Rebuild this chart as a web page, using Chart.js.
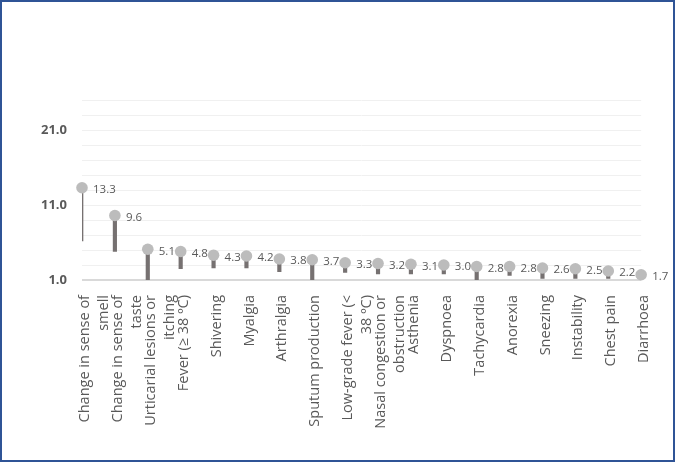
<!DOCTYPE html>
<html>
<head>
<meta charset="utf-8">
<script src="https://cdn.jsdelivr.net/npm/chart.js"></script>
<style>
  html, body { margin: 0; padding: 0; background: #fff; }
  #wrap { position: relative; width: 675px; height: 462px; }
  #frame { position: absolute; left: 0; top: 0; width: 675px; height: 462px;
           box-sizing: border-box; border: 2px solid #2f5496; pointer-events: none; }
  canvas { position: absolute; left: 0; top: 0; }
</style>
</head>
<body>
<div id="wrap">
  <canvas id="chart" width="675" height="462"></canvas>
  <div id="frame"></div>
</div>
<script>
// symptoms, in the order shown
const symptoms = [
  ["Change in sense of", "smell"],
  ["Change in sense of", "taste"],
  ["Urticarial lesions or", "itching"],
  "Fever (\u2265 38 \u00baC)",
  "Shivering",
  "Myalgia",
  "Arthralgia",
  "Sputum production",
  ["Low-grade fever (<", "38 \u00baC)"],
  ["Nasal congestion or", "obstruction"],
  "Asthenia",
  "Dyspnoea",
  "Tachycardia",
  "Anorexia",
  "Sneezing",
  "Instability",
  "Chest pain",
  "Diarrhoea"
];

// point values (labels on the chart)
const values = [13.3, 9.6, 5.1, 4.8, 4.3, 4.2, 3.8, 3.7, 3.3, 3.2, 3.1, 3.0, 2.8, 2.8, 2.6, 2.5, 2.2, 1.7];

// lower end of each stem
const stemLow = [6.2, 4.8, 1.0, 2.5, 2.6, 2.6, 2.1, 1.0, 2.0, 1.8, 1.8, 1.8, 1.0, 1.6, 1.2, 1.2, 1.2, 1.5];

// y axis
const yMin = 1, yMax = 25, yStep = 2;
const yLabelled = [1, 11, 21];

const stems = stemLow.map((lo, i) => [lo, values[i]]);
const thinStem = stems.map((s, i) => i === 0 ? s : null);
const thickStem = stems.map((s, i) => i === 0 ? null : s);

const valueLabels = {
  id: 'valueLabels',
  afterDatasetsDraw(chart) {
    const meta = chart.getDatasetMeta(2);
    const ctx = chart.ctx;
    ctx.save();
    ctx.font = '11.5px "Open Sans"';
    ctx.fillStyle = '#595959';
    ctx.textAlign = 'left';
    ctx.textBaseline = 'middle';
    meta.data.forEach((pt, i) => {
      ctx.fillText(values[i].toFixed(1), pt.x + 11, pt.y + 2);
    });
    ctx.restore();
  }
};

new Chart(document.getElementById('chart'), {
  data: {
    labels: symptoms,
    datasets: [
      {
        type: 'bar',
        data: thinStem,
        backgroundColor: '#767171',
        barThickness: 2,
        grouped: false,
        order: 2
      },
      {
        type: 'bar',
        data: thickStem,
        backgroundColor: '#767171',
        barThickness: 3.5,
        grouped: false,
        order: 2
      },
      {
        type: 'line',
        data: values,
        showLine: false,
        pointRadius: 5.8,
        pointBackgroundColor: '#bcbcbc',
        pointBorderWidth: 0,
        clip: false,
        order: 1
      }
    ]
  },
  options: {
    responsive: false,
    animation: false,
    layout: { padding: { left: 0, right: 20, top: 100, bottom: 0 } },
    plugins: { legend: { display: false }, tooltip: { enabled: false } },
    scales: {
      x: {
        offset: false,
        grid: { display: false, drawTicks: false },
        border: { display: false },
        ticks: {
          autoSkip: false,
          maxRotation: 90,
          minRotation: 90,
          padding: 15,
          labelOffset: 3,
          color: '#595959',
          font: { family: 'Open Sans', size: 14.5, lineHeight: 1.3 }
        },
        afterFit(scale) { scale.height = 182; }
      },
      y: {
        min: yMin,
        max: yMax,
        grid: {
          drawTicks: false,
          color: ctx => ctx.tick && ctx.tick.value === yMin ? '#d9d9d9' : '#f0f0f0',
          lineWidth: ctx => ctx.tick && ctx.tick.value === yMin ? 2 : 1
        },
        border: { display: false },
        ticks: {
          stepSize: yStep,
          autoSkip: false,
          padding: 15,
          color: '#595959',
          font: { family: 'Open Sans', size: 13, weight: 'bold' },
          callback: v => yLabelled.includes(v) ? v.toFixed(1) : ''
        },
        afterFit(scale) { scale.width = 82; }
      }
    }
  },
  plugins: [valueLabels]
});
</script>
</body>
</html>
